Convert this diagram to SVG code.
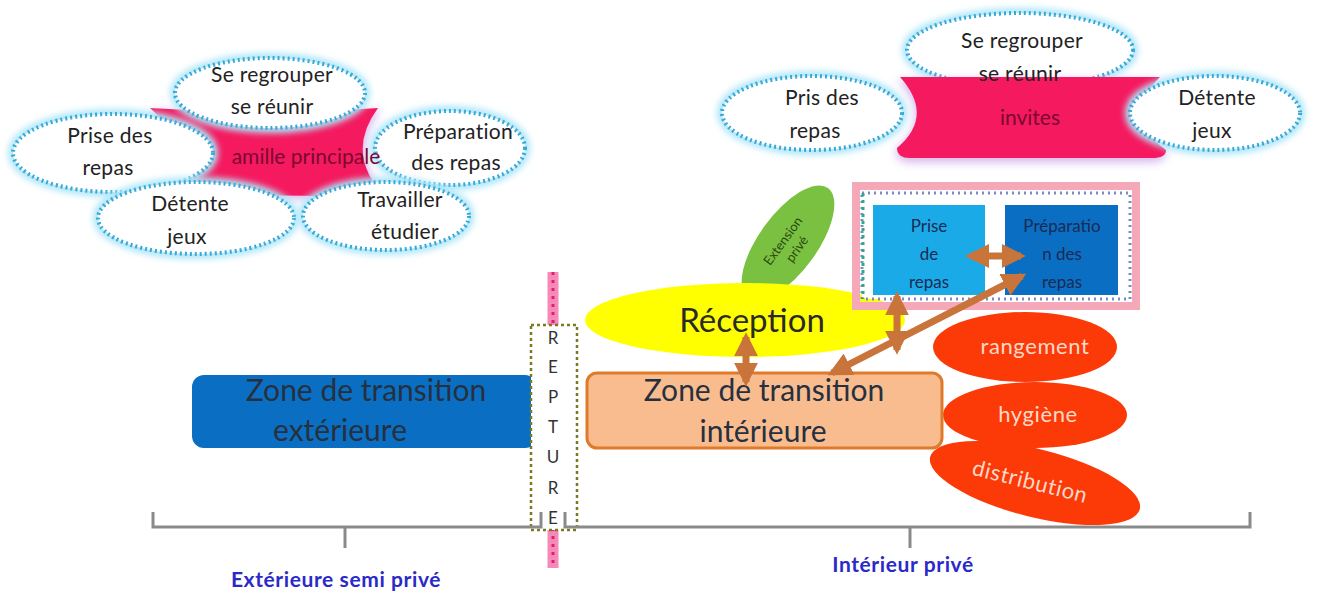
<svg xmlns="http://www.w3.org/2000/svg" width="1336" height="597" viewBox="0 0 1336 597">
  <defs>
    <filter id="glow" x="-20%" y="-30%" width="140%" height="160%">
      <feGaussianBlur stdDeviation="3"/>
    </filter>
    <filter id="soft" x="-20%" y="-30%" width="140%" height="160%">
      <feGaussianBlur stdDeviation="5"/>
    </filter>
    <marker id="head" viewBox="0 0 10 10" refX="8" refY="5" markerWidth="24" markerHeight="24" markerUnits="userSpaceOnUse" orient="auto-start-reverse">
      <path d="M0,0 L10,5 L0,10 Z" fill="#c9743a"/>
    </marker>
    <style>
      .t { font-family: Lato, "Open Sans", "Liberation Sans", sans-serif; text-anchor: middle; }
      .bubble-halo { fill: none; stroke: #aee6f8; stroke-width: 10; filter: url(#glow); }
      .bubble { fill: #ffffff; stroke: #37a9d8; stroke-width: 4; stroke-dasharray: 2 3; }
      .bt { font-size: 21px; fill: #222; letter-spacing: 0.3px; }
      .star { fill: #f5195f; }
      .star-halo { fill: #c9a0e8; filter: url(#soft); opacity: 0.8; }
      .st { font-size: 21px; fill: #7a0832; }
      .red { fill: #fb3a08; }
      .rt { font-size: 22px; fill: #ffd9c8; letter-spacing: 0.6px; }
      .conn { stroke: #c9743a; stroke-width: 7; fill: none; marker-start: url(#head); marker-end: url(#head); }
      .boxt { font-size: 17px; fill: #1b2a55; }
      .zt { font-size: 30px; fill: #26303f; }
      .lab { font-size: 21px; font-weight: bold; fill: #2a2ac8; letter-spacing: 0.6px; }
      .rep { font-size: 17px; fill: #333; }
    </style>
  </defs>

  <rect width="1336" height="597" fill="#ffffff"/>

  <!-- Famille principale cluster -->
  <g id="famille">
    <path class="star-halo" d="M150,110 Q265,120 380,110 Q345,155 390,202 Q265,194 160,204 Q205,155 150,110 Z"/>
    <path class="star" d="M150,108 Q265,116 378,108 Q343,155 388,200 Q265,190 162,202 Q203,155 150,108 Z"/>
  </g>
  <g id="f-regrouper">
    <ellipse class="bubble-halo" cx="270" cy="93" rx="95" ry="35"/>
    <ellipse class="bubble" cx="270" cy="93" rx="95" ry="35"/>
    <text class="t bt" x="272" y="82">Se regrouper</text>
    <text class="t bt" x="272" y="114">se réunir</text>
  </g>
  <g id="f-prise">
    <ellipse class="bubble-halo" cx="113" cy="153" rx="100" ry="39"/>
    <ellipse class="bubble" cx="113" cy="153" rx="100" ry="39"/>
    <text class="t bt" x="110" y="143">Prise des</text>
    <text class="t bt" x="108" y="175">repas</text>
  </g>
  <g id="f-preparation">
    <ellipse class="bubble-halo" cx="450" cy="148" rx="75" ry="37"/>
    <ellipse class="bubble" cx="450" cy="148" rx="75" ry="37"/>
    <text class="t bt" x="458" y="139">Préparation</text>
    <text class="t bt" x="456" y="170">des repas</text>
  </g>
  <g id="f-detente">
    <ellipse class="bubble-halo" cx="196" cy="218" rx="98" ry="36"/>
    <ellipse class="bubble" cx="196" cy="218" rx="98" ry="36"/>
    <text class="t bt" x="190" y="211">Détente</text>
    <text class="t bt" x="187" y="244">jeux</text>
  </g>
  <g id="f-travailler">
    <ellipse class="bubble-halo" cx="386" cy="216" rx="83" ry="34"/>
    <ellipse class="bubble" cx="386" cy="216" rx="83" ry="34"/>
    <text class="t bt" x="400" y="207">Travailler</text>
    <text class="t bt" x="405" y="239">étudier</text>
  </g>
  <text class="t st" x="306" y="164">amille principale</text>

  <!-- Invites cluster -->
  <g id="i-regrouper">
    <ellipse class="bubble-halo" cx="1020" cy="50" rx="113" ry="37"/>
    <ellipse class="bubble" cx="1020" cy="50" rx="113" ry="37"/>
  </g>
  <g id="invites">
    <path class="star-halo" d="M898,80 L1160,80 Q1120,118 1166,152 Q1166,162 1150,162 L910,162 Q896,162 896,150 Q935,118 898,80 Z"/>
    <path class="star" d="M900,77 L1160,77 Q1120,116 1166,150 Q1166,158 1152,158 L910,158 Q897,158 897,148 Q935,116 900,77 Z"/>
    <text class="t st" x="1030" y="125">invites</text>
  </g>
  <text class="t bt" x="1022" y="48">Se regrouper</text>
  <text class="t bt" x="1020" y="81">se réunir</text>
  <g id="i-pris">
    <ellipse class="bubble-halo" cx="812" cy="113" rx="90" ry="37"/>
    <ellipse class="bubble" cx="812" cy="113" rx="90" ry="37"/>
    <text class="t bt" x="822" y="105">Pris des</text>
    <text class="t bt" x="815" y="138">repas</text>
  </g>
  <g id="i-detente">
    <ellipse class="bubble-halo" cx="1215" cy="113" rx="85" ry="37"/>
    <ellipse class="bubble" cx="1215" cy="113" rx="85" ry="37"/>
    <text class="t bt" x="1217" y="105">Détente</text>
    <text class="t bt" x="1212" y="138">jeux</text>
  </g>

  <!-- Rupture line -->
  <line x1="553" y1="272" x2="553" y2="568" stroke="#f58ab8" stroke-width="11"/>
  <line x1="553" y1="272" x2="553" y2="568" stroke="#e0206a" stroke-width="3" stroke-dasharray="3 5"/>

  <!-- Exterior transition zone -->
  <g id="zone-exterieure">
    <rect x="192" y="375" width="345" height="73" rx="12" fill="#0a6fc2"/>
    <text class="t zt" x="366" y="401">Zone de transition</text>
    <text class="t zt" x="340" y="441">extérieure</text>
  </g>

  <g id="repture">
    <rect x="531" y="325" width="46" height="205" fill="#ffffff" stroke="#7a7a20" stroke-width="2.5" stroke-dasharray="3 3"/>
    <text class="t rep" x="553" y="344">R</text>
    <text class="t rep" x="553" y="373">E</text>
    <text class="t rep" x="553" y="403">P</text>
    <text class="t rep" x="553" y="433">T</text>
    <text class="t rep" x="553" y="463">U</text>
    <text class="t rep" x="553" y="494">R</text>
    <text class="t rep" x="553" y="524">E</text>
  </g>

  <!-- Extension privé -->
  <g id="extension">
    <ellipse cx="788" cy="243" rx="68" ry="29" transform="rotate(-54 788 243)" fill="#7ac142"/>
    <text class="t" transform="translate(790 244) rotate(-54)" font-size="13" fill="#2a4a10">
      <tspan x="0" y="-3">Extension</tspan>
      <tspan x="0" y="13">privé</tspan>
    </text>
  </g>

  <!-- Réception -->
  <g id="reception">
    <ellipse cx="745" cy="320" rx="160" ry="37" fill="#ffff00"/>
    <text class="t" x="752" y="332" font-size="33" fill="#2a2a2a">Réception</text>
  </g>

  <!-- Meal area -->
  <g id="espace-repas">
    <rect x="856" y="186" width="280" height="120" fill="none" stroke="#f4a8b8" stroke-width="8"/>
    <rect x="862" y="193" width="268" height="106" fill="#ffffff" stroke="#7a8ac8" stroke-width="3" stroke-dasharray="2 4"/>
    <line x1="863" y1="193" x2="863" y2="299" stroke="#30a890" stroke-width="3" stroke-dasharray="3 4"/>
  </g>
  <g id="prise-repas">
    <rect x="873" y="205" width="112" height="90" fill="#1aaae8"/>
    <text class="t boxt" x="929" y="232">Prise</text>
    <text class="t boxt" x="929" y="260">de</text>
    <text class="t boxt" x="929" y="288">repas</text>
  </g>
  <g id="preparation-repas">
    <rect x="1005" y="205" width="113" height="90" fill="#0a6fc2"/>
    <text class="t boxt" x="1062" y="232">Préparatio</text>
    <text class="t boxt" x="1062" y="260">n des</text>
    <text class="t boxt" x="1062" y="288">repas</text>
  </g>

  <!-- Service ellipses -->
  <g id="rangement">
    <ellipse class="red" cx="1025" cy="347" rx="92" ry="35"/>
    <text class="t rt" x="1035" y="354">rangement</text>
  </g>
  <g id="hygiene">
    <ellipse class="red" cx="1035" cy="415" rx="92" ry="33"/>
    <text class="t rt" x="1038" y="422">hygiène</text>
  </g>
  <g id="distribution">
    <ellipse class="red" cx="1035" cy="483" rx="108" ry="34" transform="rotate(14 1035 483)"/>
    <text class="t rt" transform="translate(1030 482) rotate(14)" y="7">distribution</text>
  </g>

  <!-- Interior transition zone -->
  <g id="zone-interieure">
    <rect x="587" y="373" width="355" height="75" rx="10" fill="#f9bc8f" stroke="#e07a2a" stroke-width="3"/>
    <text class="t zt" x="764" y="401">Zone de transition</text>
    <text class="t zt" x="763" y="442">intérieure</text>
  </g>

  <!-- Connectors -->
  <g id="connecteurs">
    <line class="conn" x1="746" y1="337" x2="746" y2="382"/>
    <line class="conn" x1="897" y1="296" x2="897" y2="350"/>
    <line class="conn" x1="832" y1="373" x2="1022" y2="276"/>
    <line class="conn" x1="970" y1="256" x2="1021" y2="256"/>
  </g>

  <!-- Zone brackets -->
  <g id="accolades" fill="none" stroke="#8a8a8a" stroke-width="3">
    <path d="M153,512 V527 H541 V512"/>
    <path d="M345,527 V548"/>
    <path d="M565,512 V527 H1250 V512"/>
    <path d="M910,527 V548"/>
  </g>
  <text class="t lab" x="336" y="587">Extérieure semi privé</text>
  <text class="t lab" x="903" y="572">Intérieur privé</text>
</svg>
